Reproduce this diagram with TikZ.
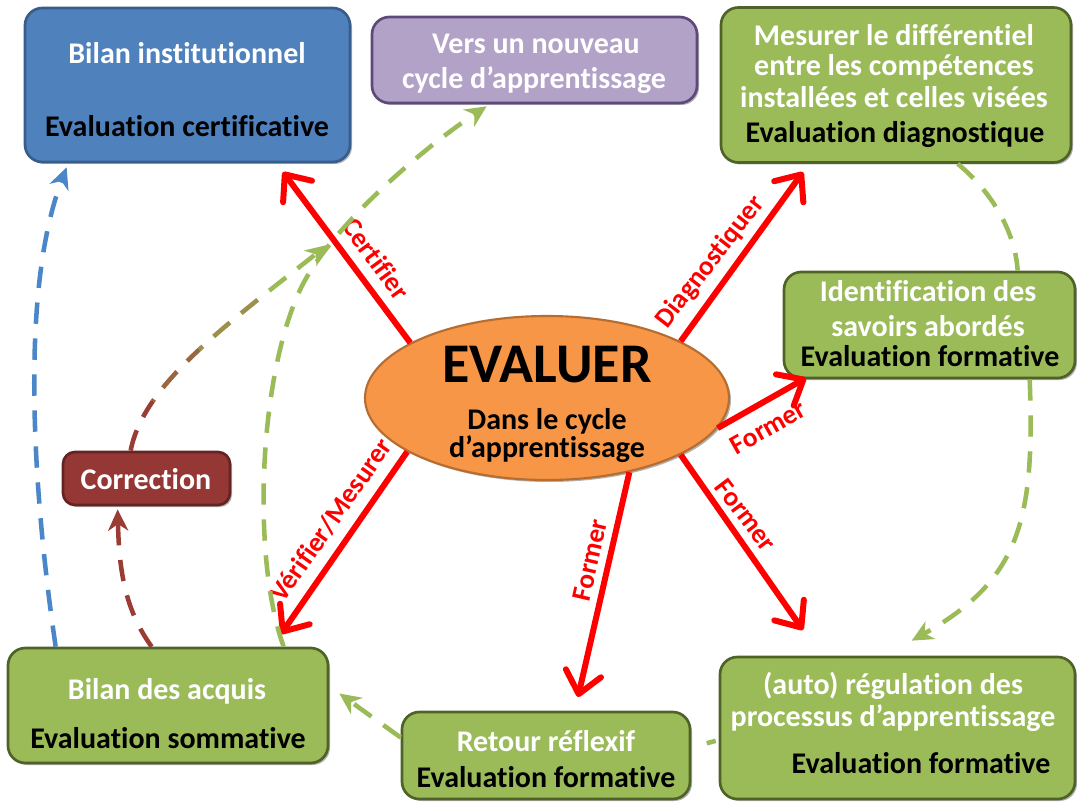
\documentclass[tikz,border=0pt]{standalone}
\usepackage{fontspec}
\setmainfont{Carlito}[Ligatures=NoCommon]
\usetikzlibrary{arrows.meta,shapes.geometric,shadows,calc}
\definecolor{boxblue}{HTML}{4F81BD}
\definecolor{boxblueb}{HTML}{385D8A}
\definecolor{boxgreen}{HTML}{9BBB59}
\definecolor{boxgreenb}{HTML}{4F6228}
\definecolor{boxpurple}{HTML}{B3A2C7}
\definecolor{boxpurpleb}{HTML}{5F497A}
\definecolor{boxorange}{HTML}{F79646}
\definecolor{boxorangeb}{HTML}{B66D31}
\definecolor{boxbrown}{HTML}{953735}
\definecolor{boxbrownb}{HTML}{632523}
\definecolor{arrred}{HTML}{FF0000}
\definecolor{dashblue}{HTML}{4A86C8}
\definecolor{dashbrown}{HTML}{9A3C34}
\definecolor{dashgreen}{HTML}{9BBB59}
\tikzset{
  box/.style={draw, line width=2pt, rounded corners=13pt, inner sep=0pt,
    drop shadow={shadow xshift=1.5pt, shadow yshift=-1.5pt, opacity=0.3, fill=black}},
  bluebox/.style={box, fill=boxblue, draw=boxblueb},
  greenbox/.style={box, fill=boxgreen, draw=boxgreenb},
  purplebox/.style={box, fill=boxpurple, draw=boxpurpleb},
  brownbox/.style={box, fill=boxbrown, draw=boxbrownb, rounded corners=9pt},
  evalell/.style={ellipse, draw=boxorangeb, fill=boxorange, line width=1.6pt, inner sep=0pt,
    drop shadow={shadow xshift=1.5pt, shadow yshift=-1.5pt, opacity=0.3, fill=black}},
  tl/.style={inner sep=0pt, text height=15.3pt, text depth=0pt, anchor=center},
  wl/.style={tl, text=white},
  bl/.style={tl, text=black},
  rlab/.style={inner sep=0pt, text height=13.6pt, text depth=0pt, text=arrred,
    font=\bfseries\fontsize{20.5}{24}\selectfont},
  redarr/.style={draw=arrred, line width=4.5pt, -{Straight Barb[length=16pt,width=27pt,round]}},
  dsh/.style={line width=3.4pt, dash pattern=on 16pt off 11pt},
  dtip/.style={-{Stealth[length=16pt,width=15pt,inset=5pt]}},
}
\begin{document}
\begin{tikzpicture}[x=0.75pt, y=-0.75pt, font=\bfseries\fontsize{22.5}{27}\selectfont]
\fill[white] (0,0) rectangle (1077,802);
\useasboundingbox (0,0) rectangle (1077,802);

% boxes
\node[bluebox, minimum width=325*0.75pt, minimum height=154*0.75pt] (inst) at (187.5,85) {};
\node[purplebox, minimum width=325*0.75pt, minimum height=86*0.75pt] (vers) at (534.5,60) {};
\node[greenbox, minimum width=350*0.75pt, minimum height=155*0.75pt] (mes) at (896,85) {};
\node[greenbox, minimum width=291*0.75pt, minimum height=106*0.75pt] (ident) at (929.5,325) {};
\node[brownbox, minimum width=167*0.75pt, minimum height=53*0.75pt] (corr) at (146.5,478.5) {};
\node[greenbox, minimum width=320*0.75pt, minimum height=115*0.75pt] (acq) at (168,705.5) {};
\node[greenbox, minimum width=288*0.75pt, minimum height=87*0.75pt] (ret) at (546,755.5) {};
\node[greenbox, minimum width=355*0.75pt, minimum height=142*0.75pt] (reg) at (897.5,728) {};
\node[evalell, minimum width=364*0.75pt, minimum height=164*0.75pt] (ev) at (547,398) {};

% texts
\node[wl] (inst1) at (187,53) {Bilan institutionnel};
\node[bl] (inst2) at (187,126) {Evaluation certificative};
\node[wl] (vers1) at (536,43) {Vers un nouveau};
\node[wl] (vers2) at (534,78) {cycle d’apprentissage};
\node[wl] (mes1) at (894,35) {Mesurer le différentiel};
\node[wl] (mes2) at (894,65) {entre les compétences};
\node[wl] (mes3) at (894,97) {installées et celles visées};
\node[bl] (mes4) at (895,132) {Evaluation diagnostique};
\node[wl] (ident1) at (928,291) {Identification des};
\node[wl] (ident2) at (928,326) {savoirs abordés};
\node[bl] (ident3) at (930,356) {Evaluation formative};
\node[wl] (corr1) at (146,479) {Correction};
\node[wl] (acq1) at (167,689) {Bilan des acquis};
\node[bl] (acq2) at (168,738) {Evaluation sommative};
\node[wl] (ret1) at (546,741) {Retour réflexif};
\node[bl] (ret2) at (546,777) {Evaluation formative};
\node[wl] (reg1) at (893,684) {(auto) régulation des};
\node[wl] (reg2) at (893,716) {processus d’apprentissage};
\node[bl] (reg3) at (921,763) {Evaluation formative};
\node[bl, text height=27pt, font=\bfseries\fontsize{42}{46}\selectfont] (ev1) at (547,364) {EVALUER};
\node[bl] (ev2) at (547,419) {Dans le cycle};
\node[bl] (ev3) at (547,447) {d’apprentissage};

% red arrows
\coordinate (certEnd) at (283,172);
\coordinate (diagEnd) at (803,172);
\coordinate (formAEnd) at (806,378);
\coordinate (formBEnd) at (803,630);
\coordinate (formCEnd) at (578,697);
\coordinate (verEnd) at (281,634);
\draw[redarr] (ev.158) -- (certEnd);
\draw[redarr] (ev.23) -- (diagEnd);
\draw[redarr] (ev.350) -- (formAEnd);
\draw[redarr] (ev.337) -- (formBEnd);
\draw[redarr] (ev.318) -- (formCEnd);
\draw[redarr] (ev.201) -- (verEnd);
\node[rlab, rotate=-54] (lcert) at (376,259) {Certifier};
\node[rlab, rotate=52] (ldiag) at (709,261) {Diagnostiquer};
\node[rlab, rotate=29.5] (lforma) at (768,427) {Former};
\node[rlab, rotate=-53] (lformb) at (746,515) {Former};
\node[rlab, rotate=77] (lformc) at (590,560) {Former};
\node[rlab, rotate=55] (lver) at (331,520) {Vérifier/Mesurer};

% dashed connectors
\draw[dsh, dtip, draw=dashblue] ($(acq.north west)+(49,0)$) .. controls (37,520) and (16,300) .. ($(inst.south west)+(43,4)$);
\draw[dsh, dtip, draw=dashbrown] ($(acq.north west)+(145,0)$) .. controls (125,610) and (119,570) .. ($(corr.south west)+(56,3)$);
% correction -> green curve, colour fading from brown to green
\coordinate (corrTop) at ($(corr.north west)+(69,0)$);
\coordinate (joinPt) at (327,245);
\draw[dsh, draw=dashbrown] (corrTop) .. controls (133.5,435.25) and (141,418.31) .. (152.77,401.23);
\draw[dsh, draw=dashbrown!67!dashgreen, dash phase=14.3pt] (152.77,401.23) .. controls (164.53,384.16) and (180.56,366.94) .. (199.13,349.63);
\draw[dsh, draw=dashbrown!33!dashgreen, dash phase=12.3pt] (199.13,349.63) .. controls (217.69,332.31) and (238.78,314.91) .. (260.67,297.45);
\draw[dsh, dtip, draw=dashgreen, dash phase=18.8pt] (260.67,297.45) .. controls (282.56,280) and (305.25,262.5) .. (joinPt);
% bilan des acquis -> nouveau cycle
\draw[dsh, dtip, draw=dashgreen] ($(acq.north west)+(277,0)$) .. controls (252,560) and (258,380) .. (300,290) .. controls (328,230) and (420,150) .. ($(vers.south west)+(116,2)$);
% right cycle
\draw[dsh, draw=dashgreen] ($(mes.south west)+(238,0)$) .. controls (990,190) and (1015,230) .. ($(ident.north west)+(235,0)$);
\draw[dsh, dtip, draw=dashgreen] ($(ident.south west)+(247,0)$) .. controls (1035,520) and (1020,580) .. ($(reg.north west)+(193,-15)$);
\draw[line width=3.4pt, draw=dashgreen, dash pattern=on 0pt off 12pt on 7pt off 30pt] ($(ret.east)+(0,-8)$) -- ($(reg.west)+(0,12)$);
\draw[dsh, dtip, draw=dashgreen] ($(ret.west)+(0,-18)$) -- ($(acq.east)+(10,-12)$);
\end{tikzpicture}
\end{document}
